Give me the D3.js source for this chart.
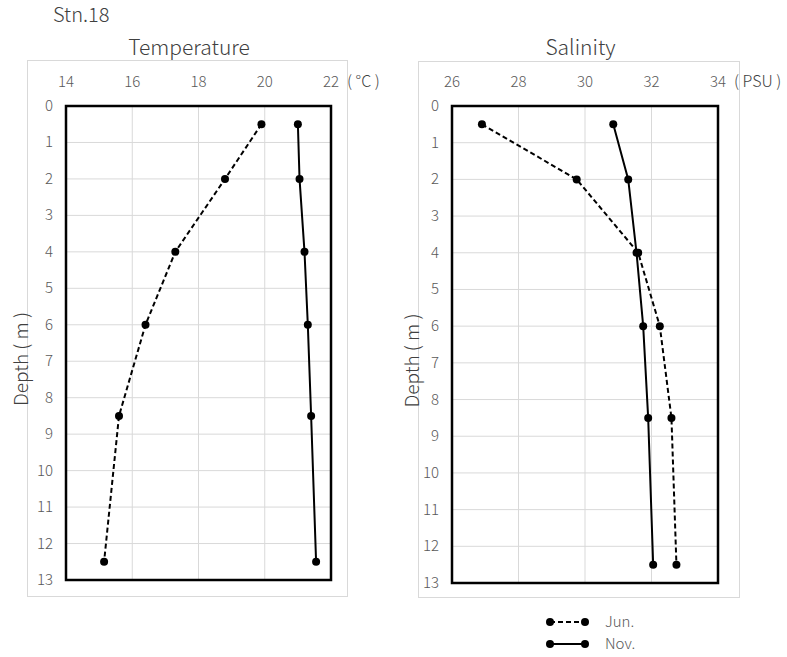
<!DOCTYPE html>
<html>
<head>
<meta charset="utf-8">
<script src="https://cdn.jsdelivr.net/npm/d3@7"></script>
<style>
  body { margin: 0; background: #fff; }
  svg text { font-family: "Noto Sans CJK JP", "Noto Sans", sans-serif; font-weight: 300; }
</style>
</head>
<body>
<svg id="chart" width="787" height="657"></svg>
<script>
// depths sampled (m)
var depths = [0.5, 2, 4, 6, 8.5, 12.5];
var tempJun = [19.9, 18.8, 17.3, 16.4, 15.6, 15.15];
var tempNov = [21.0, 21.05, 21.2, 21.3, 21.4, 21.55];
var salJun = [26.9, 29.75, 31.6, 32.25, 32.6, 32.75];
var salNov = [30.85, 31.3, 31.55, 31.75, 31.9, 32.05];
var depthTicks = d3.range(0, 14);
var tempTicks = [14, 16, 18, 20, 22];
var salTicks = [26, 28, 30, 32, 34];

var svg = d3.select("#chart");

svg.append("text")
  .attr("x", 53).attr("y", 22)
  .attr("font-size", 20).attr("fill", "#404040")
  .text("Stn.18");

function panel(opt) {
  var g = svg.append("g");
  // outer frame
  g.append("rect")
    .attr("x", opt.frame[0] + 0.5).attr("y", opt.frame[1] + 0.5)
    .attr("width", opt.frame[2]).attr("height", opt.frame[3])
    .attr("fill", "none").attr("stroke", "#d9d9d9");

  var x = d3.scaleLinear().domain(opt.xDomain).range([opt.left, opt.right]);
  var y = d3.scaleLinear().domain([0, 13]).range([opt.top, opt.bottom]);

  // gridlines
  g.selectAll(".vg").data(opt.xTicks).enter().append("line")
    .attr("x1", d => x(d)).attr("x2", d => x(d))
    .attr("y1", opt.top).attr("y2", opt.bottom)
    .attr("stroke", "#d9d9d9").attr("stroke-width", 1);
  g.selectAll(".hg").data(depthTicks).enter().append("line")
    .attr("x1", opt.left).attr("x2", opt.right)
    .attr("y1", d => y(d)).attr("y2", d => y(d))
    .attr("stroke", "#d9d9d9").attr("stroke-width", 1);

  // x tick labels (top)
  g.selectAll(".xt").data(opt.xTicks).enter().append("text")
    .attr("x", d => x(d)).attr("y", opt.top - 19)
    .attr("text-anchor", "middle").attr("font-size", 15).attr("fill", "#595959")
    .text(d => d);
  g.append("text")
    .attr("x", opt.right + 16).attr("y", opt.top - 19)
    .attr("font-size", 16).attr("fill", "#404040")
    .attr("xml:space", "preserve")
    .text(opt.unit);

  // y tick labels
  g.selectAll(".yt").data(depthTicks).enter().append("text")
    .attr("x", opt.left - 13).attr("y", d => y(d) + 5)
    .attr("text-anchor", "end").attr("font-size", 15).attr("fill", "#595959")
    .text(d => d);

  // titles
  g.append("text")
    .attr("x", (opt.frame[0] + opt.frame[0] + opt.frame[2]) / 2 + 2).attr("y", 55)
    .attr("text-anchor", "middle").attr("font-size", 21).attr("fill", "#404040")
    .text(opt.title);
  g.append("text")
    .attr("transform", `translate(${opt.frame[0] + 1}, ${(opt.top + opt.bottom) / 2 + 16}) rotate(-90)`)
    .attr("text-anchor", "middle").attr("font-size", 19).attr("fill", "#404040")
    .attr("xml:space", "preserve")
    .text("Depth ( m )");

  var line = d3.line().x(d => x(d[0])).y(d => y(d[1]));
  opt.series.forEach(function(s) {
    var pts = s.values.map((v, i) => [v, depths[i]]);
    g.append("path").datum(pts)
      .attr("d", line).attr("fill", "none")
      .attr("stroke", "#000").attr("stroke-width", 2)
      .attr("stroke-dasharray", s.dash ? "5,3" : null);
    g.selectAll(null).data(pts).enter().append("circle")
      .attr("cx", d => x(d[0])).attr("cy", d => y(d[1]))
      .attr("r", 4).attr("fill", "#000");
  });

  // plot border
  g.append("rect")
    .attr("x", opt.left).attr("y", opt.top)
    .attr("width", opt.right - opt.left).attr("height", opt.bottom - opt.top)
    .attr("fill", "none").attr("stroke", "#000").attr("stroke-width", 2.5);
}

panel({
  title: "Temperature", unit: "( °C )",
  frame: [27, 60, 320, 536],
  left: 66, right: 331, top: 106, bottom: 580,
  xDomain: [14, 22], xTicks: tempTicks,
  series: [{ values: tempJun, dash: true }, { values: tempNov, dash: false }]
});

panel({
  title: "Salinity", unit: "( PSU )",
  frame: [418, 61, 321, 536],
  left: 452, right: 718, top: 106, bottom: 583,
  xDomain: [26, 34], xTicks: salTicks,
  series: [{ values: salJun, dash: true }, { values: salNov, dash: false }]
});

// legend
var legendItems = [{ name: "Jun.", dash: true }, { name: "Nov.", dash: false }];
var lg = svg.append("g").attr("transform", "translate(550, 622)");
legendItems.forEach(function(d, i) {
  var yy = i * 22;
  lg.append("line").attr("x1", 0).attr("x2", 35).attr("y1", yy).attr("y2", yy)
    .attr("stroke", "#000").attr("stroke-width", 2)
    .attr("stroke-dasharray", d.dash ? "5,3" : null);
  lg.append("circle").attr("cx", 0).attr("cy", yy).attr("r", 4);
  lg.append("circle").attr("cx", 35).attr("cy", yy).attr("r", 4);
  lg.append("text").attr("x", 55).attr("y", yy + 5)
    .attr("font-size", 15).attr("fill", "#595959").text(d.name);
});
</script>
</body>
</html>
